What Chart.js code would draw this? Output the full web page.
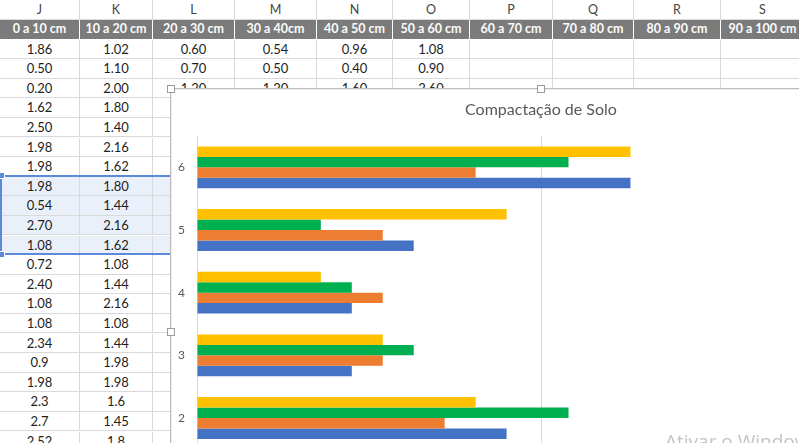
<!DOCTYPE html>
<html>
<head>
<meta charset="utf-8">
<script src="https://cdn.jsdelivr.net/npm/chart.js@4"></script>
<style>
  html, body { margin: 0; padding: 0; width: 799px; height: 443px; overflow: hidden; background: #fff; }
  #sheet { position: absolute; left: 0; top: 0; width: 799px; height: 443px; font-family: Lato, "Open Sans", sans-serif; }
  .cell { position: absolute; box-sizing: border-box; border-right: 1px solid #d9d9d9; border-bottom: 1px solid #d9d9d9;
          text-align: center; font-size: 13px; color: #1e1e1e; white-space: nowrap; overflow: hidden; }
  .letter { color: #444; font-size: 12.5px; background: #fff; }
  .head { background: #7b7b7b; color: #fbfbfb; font-weight: bold; font-size: 12.5px; border-right: 1px solid #fff; border-bottom: 1px solid #fff; }
  .sel { background: #eaf0fa; }
  #selBox { position: absolute; left: 0; top: 175px; width: 200px; height: 80px; box-sizing: border-box;
            border-top: 2px solid #5b8bd8; border-bottom: 2px solid #5b8bd8; border-left: 2px solid #5b8bd8; }
  .selHandle { position: absolute; width: 5px; height: 5px; background: #5b8bd8; border: 1px solid #fff; }
  #chartFrame { position: absolute; left: 170px; top: 88px; width: 742px; height: 488px; box-sizing: border-box;
                border: 1px solid #bdbdbd; background: #fff; box-shadow: inset 1px 1px 0 #ececec; }
  #chartBox { position: absolute; left: 0; top: 0; width: 740px; height: 486px; }
  .handle { position: absolute; width: 6px; height: 6px; background: #fff; border: 1px solid #9a9a9a; }
  #watermark { position: absolute; left: 665px; top: 431px; font-family: "Open Sans", sans-serif; font-size: 19px;
               line-height: 20px; color: #c4c4c4; white-space: nowrap; }
</style>
</head>
<body>
<div id="sheet"></div>
<div id="chartFrame"><div id="chartBox"><canvas id="soloChart"></canvas></div></div>
<div class="handle" style="left:167px; top:85px;"></div>
<div class="handle" style="left:537px; top:85px;"></div>
<div class="handle" style="left:167px; top:328px;"></div>
<div id="watermark">Ativar o Windows</div>

<script>
// spreadsheet contents
const colLetters = ["J", "K", "L", "M", "N", "O", "P", "Q", "R", "S"];
const colHeaders = ["0 a 10 cm", "10 a 20 cm", "20 a 30 cm", "30 a 40cm", "40 a 50 cm",
                    "50 a 60 cm", "60 a 70 cm", "70 a 80 cm", "80 a 90 cm", "90 a 100 cm"];
const tableRows = [
    ["1.86", "1.02", "0.60", "0.54", "0.96", "1.08"],
    ["0.50", "1.10", "0.70", "0.50", "0.40", "0.90"],
    ["0.20", "2.00", "1.20", "1.20", "1.60", "2.60"],
    ["1.62", "1.80"], ["2.50", "1.40"], ["1.98", "2.16"], ["1.98", "1.62"],
    ["1.98", "1.80"], ["0.54", "1.44"], ["2.70", "2.16"], ["1.08", "1.62"],
    ["0.72", "1.08"], ["2.40", "1.44"], ["1.08", "2.16"], ["1.08", "1.08"],
    ["2.34", "1.44"], ["0.9", "1.98"], ["1.98", "1.98"], ["2.3", "1.6"],
    ["2.7", "1.45"], ["2.52", "1.8"]
];
const selectedRows = [7, 8, 9, 10];

// chart data (categories listed top to bottom as drawn)
const categories = ["6", "5", "4", "3", "2", "1"];
const serieAzul    = [2.52, 1.26, 0.90, 0.90, 1.80, null];
const serieLaranja = [1.62, 1.08, 1.08, 1.08, 1.44, null];
const serieVerde   = [2.16, 0.72, 0.90, 1.26, 2.16, null];
const serieAmarela = [2.52, 1.80, 0.72, 1.08, 1.62, null];
const xTicks = [0, 2, 4];

// build the grid
const sheet = document.getElementById("sheet");
const colX = [0, 80, 153, 235, 317, 393, 470, 553, 634, 721, 805];
const rowTop = 39.5, rowH = 19.6;

function addCell(cls, text, col, top, h) {
    const d = document.createElement("div");
    d.className = "cell " + cls;
    d.style.left = colX[col] + "px";
    d.style.width = (colX[col + 1] - colX[col]) + "px";
    d.style.top = top + "px";
    d.style.height = h + "px";
    d.style.lineHeight = (h - 1) + "px";
    d.textContent = text;
    sheet.appendChild(d);
}

colLetters.forEach((l, i) => addCell("letter", l, i, 0, 20));
colHeaders.forEach((h, i) => addCell("head", h, i, 20, rowTop - 20));
tableRows.forEach((row, r) => {
    const cls = selectedRows.includes(r) ? "sel" : "";
    for (let c = 0; c < colLetters.length; c++) {
        addCell(cls, row[c] || "", c, rowTop + r * rowH, rowH);
    }
});

const selBox = document.createElement("div");
selBox.id = "selBox";
sheet.appendChild(selBox);
[174, 253].forEach(y => {
    const h = document.createElement("div");
    h.className = "selHandle";
    h.style.left = "-2px";
    h.style.top = y - 2 + "px";
    sheet.appendChild(h);
});

// chart
const ctx = document.getElementById("soloChart").getContext("2d");
const chart = new Chart(ctx, {
    type: "bar",
    data: {
        labels: categories,
        datasets: [
            { label: "Série4", data: serieAmarela, backgroundColor: "#ffc000" },
            { label: "Série3", data: serieVerde, backgroundColor: "#00b050" },
            { label: "Série2", data: serieLaranja, backgroundColor: "#ed7d31" },
            { label: "Série1", data: serieAzul, backgroundColor: "#4472c4" }
        ]
    },
    options: {
        indexAxis: "y",
        responsive: true,
        maintainAspectRatio: false,
        animation: false,
        datasets: { bar: { barPercentage: 1, categoryPercentage: 0.667, borderWidth: 0 } },
        layout: { padding: 0 },
        plugins: {
            legend: { display: false },
            tooltip: { enabled: false },
            title: {
                display: true,
                text: "Compactação de Solo",
                color: "#595959",
                font: { family: "Lato", size: 16, weight: "normal", lineHeight: 1.2 },
                padding: { top: 11.4, bottom: 16.4 }
            }
        },
        scales: {
            x: {
                min: 0,
                max: 4,
                afterBuildTicks: scale => { scale.ticks = xTicks.map(v => ({ value: v })); },
                afterFit: scale => { scale.height = 63; },
                grid: { color: "#d9d9d9", drawTicks: false },
                border: { display: false },
                ticks: { color: "#595959", font: { family: "Lato", size: 11 }, padding: 6 }
            },
            y: {
                afterFit: scale => { scale.width = 26; },
                grid: { display: false },
                border: { display: true, color: "#d9d9d9" },
                ticks: { color: "#595959", font: { family: "Lato", size: 12 }, padding: 4 }
            },
            // empty strip on the right, keeps the plot clear of the frame edge
            yRight: {
                type: "category",
                position: "right",
                afterFit: scale => { scale.width = 26; },
                grid: { display: false },
                border: { display: false },
                ticks: { display: false }
            }
        }
    }
});
</script>
</body>
</html>
